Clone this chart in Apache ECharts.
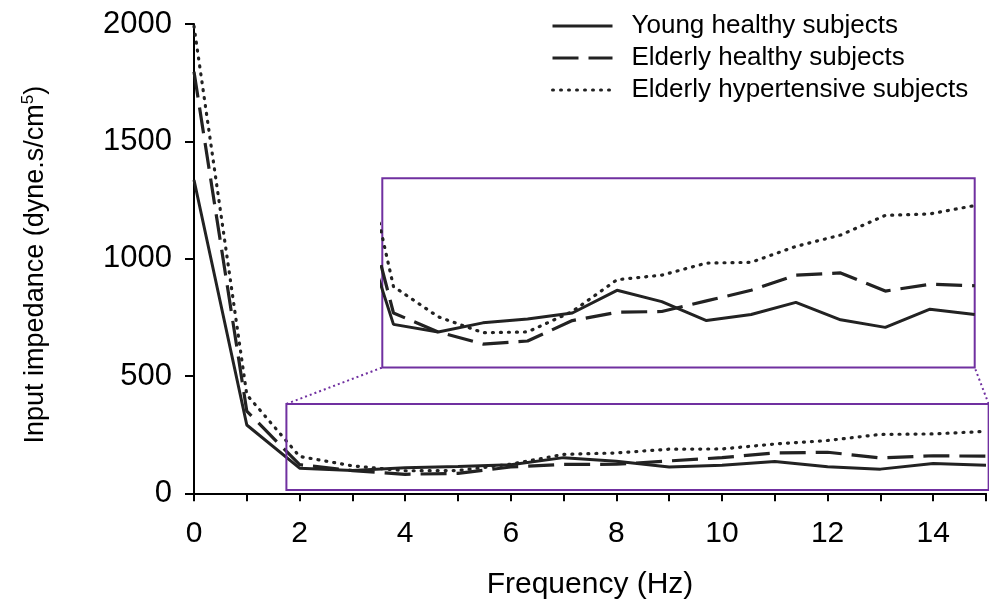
<!DOCTYPE html>
<html><head><meta charset="utf-8">
<script src="https://cdn.jsdelivr.net/npm/echarts/dist/echarts.min.js"></script>
<style>html,body{margin:0;padding:0;background:#fff}#c{width:989px;height:612px}</style>
</head><body><div id="c"></div>
<script>
// ---- data ----
const freqHz = [0,1,2,3,4,5,6,7,8,9,10,11,12,13,14,15];
const youngHealthy = [1335,291,107,97,109,114,122,152,137,112,120,136,113,103,127,120];
const elderlyHealthy = [1796,350,122,97,81,85,112,123,124,138,152,172,175,151,160,158];
const elderlyHypertensive = [1990,420,157,117,96,97,124,166,172,188,189,210,225,251,253,264];
const seriesNames = ['Young healthy subjects','Elderly healthy subjects','Elderly hypertensive subjects'];
const yTicks = [0,500,1000,1500,2000];
const xLabelEvery = 2;
// inset (zoomed view) extent
const insetX = [1.75, 15];
const insetY = [50, 300];
// highlighted region in main plot
const boxX = [1.75, 15.05];
const boxY = [14, 381];

const INK = '#222';
const PURPLE = '#7030a0';
const FONT = 'Liberation Sans, Arial, sans-serif';
const styles = [
  {type:'solid', width:3},
  {type:[26,10], width:3.2},
  {type:[1,7], width:3.2, cap:'round'}
];
const allData = [youngHealthy, elderlyHealthy, elderlyHypertensive];
const pairs = d => freqHz.map((f,i)=>[f,d[i]]);

const series = [];
allData.forEach((d,k)=>{
  series.push({name:seriesNames[k], type:'line', xAxisIndex:0, yAxisIndex:0, data:pairs(d),
    symbol:'none', lineStyle:Object.assign({color:INK}, styles[k]), itemStyle:{color:INK}, z:3, animation:false});
});
allData.forEach((d,k)=>{
  series.push({name:seriesNames[k], type:'line', xAxisIndex:1, yAxisIndex:1, data:pairs(d),
    symbol:'none', clip:true, lineStyle:Object.assign({color:INK}, styles[k]), itemStyle:{color:INK}, z:3, animation:false});
});

const chart = echarts.init(document.getElementById('c'), null, {renderer:'canvas'});
const option = {
  backgroundColor:'#fff',
  animation:false,
  textStyle:{fontFamily:FONT},
  legend:{
    data:seriesNames, orient:'vertical', left:546, top:8,
    itemWidth:60, itemHeight:14, itemGap:6,
    itemStyle:{opacity:0},
    lineStyle:{width:3},
    textStyle:{fontSize:26, color:'#000', fontFamily:FONT, padding:[0,0,0,14]},
    selectedMode:false
  },
  grid:[
    {left:194, top:24, right:2, bottom:118.7, containLabel:false},
    {left:382.3, top:178.3, width:592.4, height:189.2, show:true, borderColor:PURPLE, borderWidth:2, backgroundColor:'#fff', z:1}
  ],
  xAxis:[
    {type:'value', gridIndex:0, min:0, max:15, interval:1,
     axisLine:{show:true, onZero:false, lineStyle:{color:'#000', width:2}},
     axisTick:{show:true, length:8, lineStyle:{color:'#000', width:2}},
     axisLabel:{fontSize:30, color:'#000', margin:25, fontFamily:FONT,
       formatter:v => (v % xLabelEvery === 0 ? String(v) : '')},
     splitLine:{show:false},
     name:'Frequency (Hz)', nameLocation:'middle', nameGap:76,
     nameTextStyle:{fontSize:30, color:'#000', fontFamily:FONT}},
    {type:'value', gridIndex:1, min:insetX[0], max:insetX[1], show:false, splitLine:{show:false}}
  ],
  yAxis:[
    {type:'value', gridIndex:0, min:yTicks[0], max:yTicks[yTicks.length-1], interval:500,
     axisLine:{show:true, lineStyle:{color:'#000', width:2}},
     axisTick:{show:true, length:9, lineStyle:{color:'#000', width:2}},
     axisLabel:{fontSize:31, color:'#000', margin:22, fontFamily:FONT, formatter:v => String(v)},
     splitLine:{show:false},
     name:'Input impedance (dyne.s/cm{sup|5})', nameLocation:'middle', nameGap:143,
     nameTextStyle:{fontSize:27, color:'#000', fontFamily:FONT, padding:[0,12,0,0],
       rich:{sup:{fontSize:17, color:'#000', fontFamily:FONT, padding:[0,0,14,0]}}}},
    {type:'value', gridIndex:1, min:insetY[0], max:insetY[1], show:false, splitLine:{show:false}}
  ],
  series:series
};
chart.setOption(option);

// highlight box and connectors, positioned through the chart's own scales
const tl = chart.convertToPixel({gridIndex:0}, [boxX[0], boxY[1]]);
const br = chart.convertToPixel({gridIndex:0}, [boxX[1], boxY[0]]);
const iBL = chart.convertToPixel({gridIndex:1}, [insetX[0], insetY[0]]);
const iBR = chart.convertToPixel({gridIndex:1}, [insetX[1], insetY[0]]);
chart.setOption({graphic:[
  {type:'rect', shape:{x:tl[0], y:tl[1], width:br[0]-tl[0], height:br[1]-tl[1]},
   style:{fill:null, stroke:PURPLE, lineWidth:2}, z:5, silent:true},
  {type:'line', shape:{x1:tl[0], y1:tl[1], x2:iBL[0], y2:iBL[1]},
   style:{stroke:PURPLE, lineWidth:2, lineDash:[2,3]}, z:5, silent:true},
  {type:'line', shape:{x1:br[0], y1:tl[1], x2:iBR[0], y2:iBR[1]},
   style:{stroke:PURPLE, lineWidth:2, lineDash:[2,3]}, z:5, silent:true}
]});
</script>
</body></html>
